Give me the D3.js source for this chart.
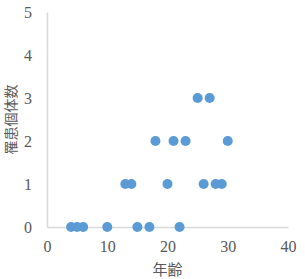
<!DOCTYPE html>
<html>
<head>
<meta charset="utf-8">
<script src="https://cdn.jsdelivr.net/npm/d3@7"></script>
<style>
  body { margin: 0; background: #fff; }
</style>
</head>
<body>
<div class="chart"></div>
<script>
// data
var ages = [4, 5, 6, 10, 15, 17, 22, 13, 14, 20, 26, 28, 29, 18, 21, 23, 30, 25, 27];
var counts = [0, 0, 0, 0, 0, 0, 0, 1, 1, 1, 1, 1, 1, 2, 2, 2, 2, 3, 3];
var xTicks = [0, 10, 20, 30, 40];
var yTicks = [0, 1, 2, 3, 4, 5];
var xTitle = "年齢";
var yTitle = "罹患個体数";

var svgWidth = 305;
var svgHeight = 279;
var margin = { top: 12, right: 17, bottom: 52, left: 47 };
var width = svgWidth - margin.left - margin.right;
var height = svgHeight - margin.top - margin.bottom;

var svg = d3.select(".chart")
  .append("svg")
  .attr("width", svgWidth)
  .attr("height", svgHeight);

var chart = svg.append("g")
  .attr("transform", "translate(" + margin.left + "," + margin.top + ")");

var xScale = d3.scaleLinear().domain([0, 40]).range([0, width]);
var yScale = d3.scaleLinear().domain([0, 5]).range([height, 0]);

var bottomAxis = d3.axisBottom(xScale).tickValues(xTicks)
  .tickFormat(d3.format("d")).tickSize(0).tickPadding(14);
var leftAxis = d3.axisLeft(yScale).tickValues(yTicks)
  .tickFormat(d3.format("d")).tickSize(0).tickPadding(15);

var gx = chart.append("g")
  .attr("transform", "translate(0," + height + ")")
  .call(bottomAxis);
var gy = chart.append("g").call(leftAxis);

[gx, gy].forEach(function(g) {
  g.select(".domain").attr("stroke", "#d9d9d9").attr("stroke-width", 1.5);
  g.selectAll(".tick text")
    .style("font-family", "'Liberation Serif', 'DejaVu Serif', serif")
    .attr("fill", "#595959")
    .attr("font-size", "16px");
});

var points = ages.map(function(a, i) { return { age: a, count: counts[i] }; });

chart.selectAll("circle")
  .data(points)
  .enter().append("circle")
  .attr("cx", function(d) { return xScale(d.age); })
  .attr("cy", function(d) { return yScale(d.count); })
  .attr("r", 5)
  .attr("fill", "#5b9bd5");

chart.append("text")
  .attr("x", width / 2)
  .attr("y", height + 48)
  .attr("text-anchor", "middle")
  .attr("font-family", "Noto Sans CJK JP, sans-serif")
  .attr("font-size", "15px")
  .attr("fill", "#595959")
  .text(xTitle);

chart.append("text")
  .attr("transform", "rotate(-90)")
  .attr("x", -height / 2)
  .attr("y", -margin.left + 16)
  .attr("text-anchor", "middle")
  .attr("font-family", "Noto Sans CJK JP, sans-serif")
  .attr("font-size", "14px")
  .attr("fill", "#595959")
  .text(yTitle);
</script>
</body>
</html>
